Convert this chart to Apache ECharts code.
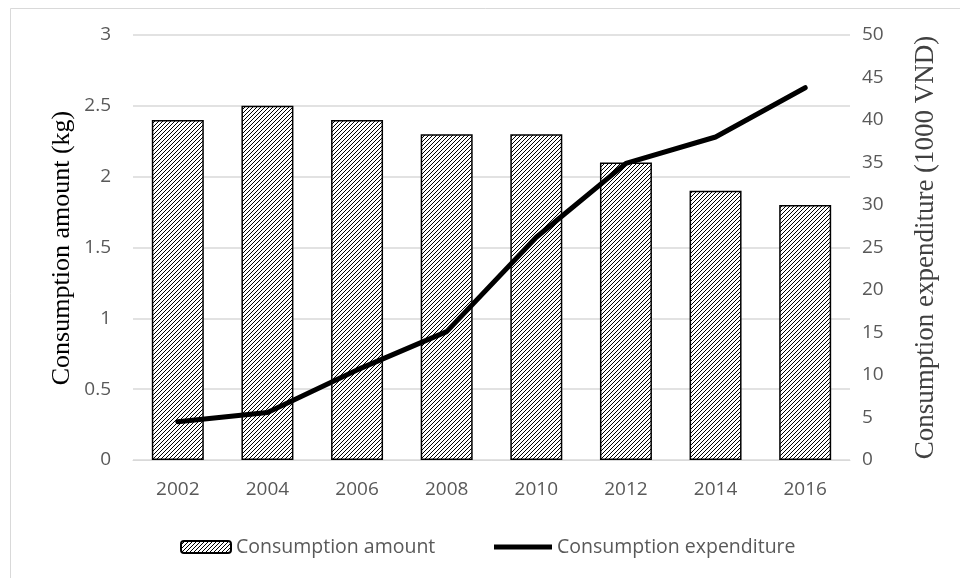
<!DOCTYPE html>
<html>
<head>
<meta charset="utf-8">
<script src="https://cdn.jsdelivr.net/npm/echarts@6/dist/echarts.min.js"></script>
<style>
  html, body { margin: 0; padding: 0; background: #fff; }
  #chart { width: 960px; height: 578px; }
</style>
</head>
<body>
<div id="chart"></div>
<script>
// Survey years and the two measured series
const years = ['2002', '2004', '2006', '2008', '2010', '2012', '2014', '2016'];
const consumptionAmount = [2.4, 2.5, 2.4, 2.3, 2.3, 2.1, 1.9, 1.8];        // kg
const consumptionExpenditure = [4.5, 5.6, 10.6, 15.1, 26.2, 34.9, 38.0, 43.8]; // 1000 VND

// Diagonal hatch tile used to fill the bars
function hatchTile() {
  const s = 4;
  const c = document.createElement('canvas');
  c.width = s; c.height = s;
  const ctx = c.getContext('2d');
  ctx.fillStyle = '#fff';
  ctx.fillRect(0, 0, s, s);
  ctx.strokeStyle = '#000';
  ctx.lineWidth = 1.0;
  ctx.beginPath();
  ctx.moveTo(0, s); ctx.lineTo(s, 0);
  ctx.moveTo(-1, 1); ctx.lineTo(1, -1);
  ctx.moveTo(s - 1, s + 1); ctx.lineTo(s + 1, s - 1);
  ctx.stroke();
  return c;
}

const tickFont = { fontFamily: 'Open Sans', fontSize: 19, color: '#595959' };
const legendFont = { fontFamily: 'Open Sans', fontSize: 19.5, color: '#595959' };
const gridColor = '#d9d9d9';

const chart = echarts.init(document.getElementById('chart'), null, { renderer: 'canvas' });
chart.setOption({
  animation: false,
  backgroundColor: '#fff',
  graphic: [{
    type: 'rect',
    left: 8, top: 6,
    shape: { width: 1000, height: 620 },
    style: { fill: 'none', stroke: gridColor, lineWidth: 1 },
    silent: true, z: -1
  }, {
    // left axis title
    type: 'text',
    x: 62, y: 248,
    rotation: Math.PI / 2,
    style: {
      text: 'Consumption amount (kg)',
      fontFamily: 'Liberation Serif', fontSize: 26, fill: '#000',
      align: 'center', verticalAlign: 'middle'
    },
    silent: true
  }],
  grid: { left: 133, right: 110, top: 35, bottom: 118, containLabel: false },
  legend: [{
    data: ['Consumption amount'],
    left: 175, top: 532,
    itemWidth: 50, itemHeight: 12,
    textStyle: legendFont
  }, {
    data: [{ name: 'Consumption expenditure', icon: 'rect' }],
    left: 489, top: 532,
    itemWidth: 58, itemHeight: 5,
    itemStyle: { color: '#000', borderWidth: 0 },
    textStyle: legendFont
  }],
  xAxis: {
    type: 'category',
    data: years,
    axisLine: { lineStyle: { color: gridColor, width: 1 } },
    axisTick: { show: false },
    axisLabel: Object.assign({ margin: 20 }, tickFont)
  },
  yAxis: [{
    type: 'value',
    min: 0, max: 3, interval: 0.5,
    axisLine: { show: false },
    axisTick: { show: false },
    splitLine: { lineStyle: { color: gridColor, width: 1.5 } },
    axisLabel: Object.assign({ margin: 22 }, tickFont)
  }, {
    type: 'value',
    min: 0, max: 50, interval: 5,
    position: 'right',
    name: 'Consumption expenditure (1000 VND)',
    nameLocation: 'middle',
    nameRotate: 90,
    nameGap: 62,
    nameTextStyle: { fontFamily: 'Liberation Serif', fontSize: 27, color: '#404040' },
    axisLine: { show: false },
    axisTick: { show: false },
    splitLine: { show: false },
    axisLabel: Object.assign({ margin: 12 }, tickFont)
  }],
  series: [{
    name: 'Consumption amount',
    type: 'bar',
    yAxisIndex: 0,
    data: consumptionAmount,
    barWidth: '58%',
    itemStyle: {
      color: { image: hatchTile(), repeat: 'repeat' },
      borderColor: '#000',
      borderWidth: 1.5
    }
  }, {
    name: 'Consumption expenditure',
    type: 'line',
    yAxisIndex: 1,
    data: consumptionExpenditure,
    showSymbol: false,
    symbol: 'none',
    lineStyle: { color: '#000', width: 5, join: 'round', cap: 'round' },
    itemStyle: { color: '#000' },
    z: 3
  }]
});
</script>
</body>
</html>
